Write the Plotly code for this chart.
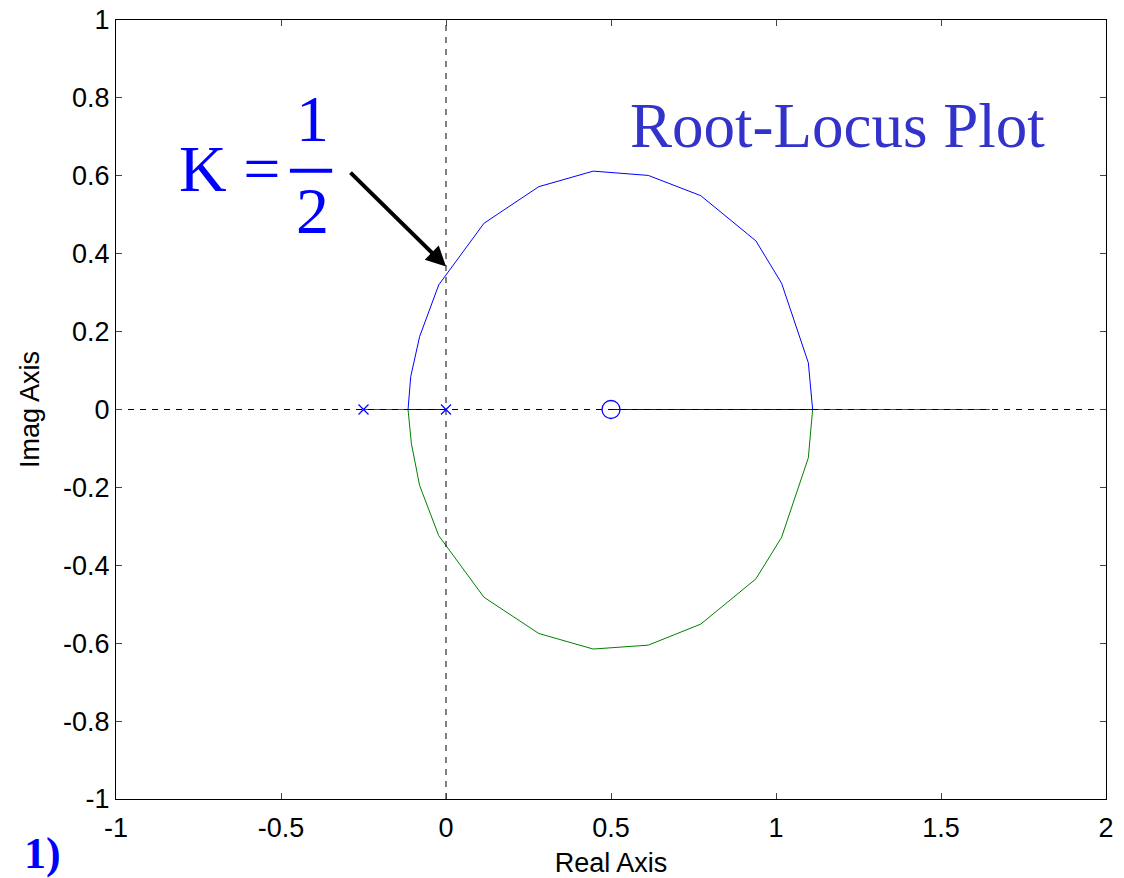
import plotly.graph_objects as go

# Root locus branches
blue_x = [0.0, -0.115, -0.107, -0.080, -0.022, 0.115, 0.281, 0.446, 0.613, 0.772, 0.939, 1.017, 1.098, 1.111, 0.5]
blue_y = [0.0, 0.0, 0.084, 0.187, 0.320, 0.478, 0.572, 0.612, 0.601, 0.549, 0.433, 0.324, 0.120, 0.0, 0.0]
green_x = [-0.25, -0.115, -0.105, -0.080, -0.022, 0.115, 0.281, 0.446, 0.613, 0.772, 0.939, 1.017, 1.098, 1.111, 1.648]
green_y = [0.0, 0.0, -0.087, -0.195, -0.324, -0.482, -0.575, -0.615, -0.605, -0.551, -0.435, -0.328, -0.124, 0.0, 0.0]
pole_x = [-0.25, 0.0]
pole_y = [0.0, 0.0]
zero_x = [0.5]
zero_y = [0.0]

x_ticks = [-1, -0.5, 0, 0.5, 1, 1.5, 2]
x_ticktext = ["-1", "-0.5", "0", "0.5", "1", "1.5", "2"]
y_ticks = [-1, -0.8, -0.6, -0.4, -0.2, 0, 0.2, 0.4, 0.6, 0.8, 1]
y_ticktext = ["-1", "-0.8", "-0.6", "-0.4", "-0.2", "0", "0.2", "0.4", "0.6", "0.8", "1"]

fig = go.Figure()
fig.add_trace(go.Scatter(x=green_x, y=green_y, mode="lines",
                         line=dict(color="#008000", width=1), showlegend=False))
fig.add_trace(go.Scatter(x=blue_x, y=blue_y, mode="lines",
                         line=dict(color="#0000ff", width=1), showlegend=False))
# dashed axes
fig.add_trace(go.Scatter(x=[-1, 2], y=[0, 0], mode="lines",
                         line=dict(color="black", width=1, dash="6px,6px"), showlegend=False))
fig.add_trace(go.Scatter(x=[0, 0], y=[-1, 1], mode="lines",
                         line=dict(color="black", width=1, dash="6px,6px"), showlegend=False))
fig.add_trace(go.Scatter(x=pole_x, y=pole_y, mode="markers",
                         marker=dict(symbol="x-thin", size=10, line=dict(color="#0000ff", width=1.2)),
                         showlegend=False))
fig.add_trace(go.Scatter(x=zero_x, y=zero_y, mode="markers",
                         marker=dict(symbol="circle-open", size=18, color="#0000ff", line=dict(color="#0000ff", width=1.3)),
                         showlegend=False))

sans = "Liberation Sans, Arial"
axis_common = dict(showgrid=False, zeroline=False, showline=True, linecolor="black", linewidth=1.3,
                   mirror="allticks", ticks="inside", ticklen=6, tickcolor="#444444", tickwidth=1,
                   automargin=False,
                   tickfont=dict(family=sans, size=27, color="black"))

fig.update_xaxes(range=[-1, 2], tickvals=x_ticks, ticktext=x_ticktext, ticklabelstandoff=4,
                 title=dict(text="Real Axis", font=dict(family=sans, size=27, color="black"), standoff=14),
                 **axis_common)
fig.update_yaxes(range=[-1, 1], tickvals=y_ticks, ticktext=y_ticktext,
                 title=dict(text="Imag Axis", font=dict(family=sans, size=27, color="black"), standoff=15),
                 **axis_common)

serif = "Liberation Serif, Times New Roman"
annotations = [
    dict(x=0.0, y=0.367, ax=-0.294, ay=0.612, xref="x", yref="y", axref="x", ayref="y",
         showarrow=True, arrowhead=2, arrowsize=1.0, arrowwidth=4, arrowcolor="black", text=""),
    dict(x=1.82, y=0.728, xref="x", yref="y", text="Root-Locus Plot", showarrow=False,
         xanchor="right", yanchor="middle", font=dict(family=serif, size=63, color="#3333cc")),
    dict(x=-0.815, y=0.62, xref="x", yref="y", text="K =", showarrow=False,
         xanchor="left", yanchor="middle", font=dict(family=serif, size=66, color="#0000ff")),
    dict(x=-0.405, y=0.748, xref="x", yref="y", text="1", showarrow=False,
         xanchor="center", yanchor="middle", font=dict(family=serif, size=66, color="#0000ff")),
    dict(x=-0.405, y=0.51, xref="x", yref="y", text="2", showarrow=False,
         xanchor="center", yanchor="middle", font=dict(family=serif, size=66, color="#0000ff")),
    dict(x=(22 - 116) / 989.5, y=(-79 - 2) / 779, xref="paper", yref="paper", text="<b>1)</b>",
         showarrow=False, xanchor="left", yanchor="bottom",
         font=dict(family=serif, size=44, color="#0000ff")),
]

fig.update_layout(
    width=1124, height=878,
    margin=dict(l=116, r=18, t=20, b=79),
    plot_bgcolor="white", paper_bgcolor="white",
    annotations=annotations,
    shapes=[dict(type="line", xref="x", yref="y", x0=-0.473, x1=-0.345, y0=0.613, y1=0.613,
                 line=dict(color="#0000ff", width=4))],
)

fig.write_html("out.html")
